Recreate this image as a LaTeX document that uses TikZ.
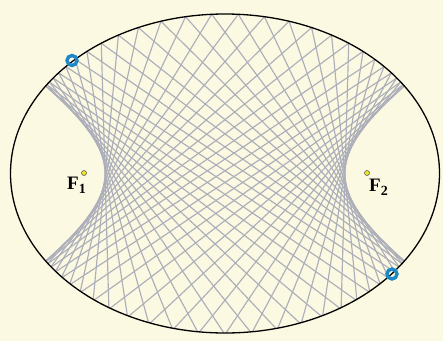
\documentclass[tikz,border=0pt]{standalone}
\usepackage{fontspec}
\setmainfont{Liberation Serif}
\definecolor{cream}{RGB}{252,249,226}
\definecolor{chordgray}{RGB}{172,174,186}
\definecolor{ringblue}{RGB}{28,136,200}
\definecolor{dotyellow}{RGB}{236,230,40}
\tikzset{
  chord/.style={draw=chordgray, line width=1.15pt},
  rim/.style={draw=black, line width=1.3pt},
  focus/.style={circle, draw=black!70, fill=dotyellow, line width=0.5pt, minimum size=5pt, inner sep=0pt},
  endpt/.style={circle, draw=ringblue, line width=3.4pt, minimum size=10pt, inner sep=0pt},
  lbl/.style={font=\fontsize{19}{19}\selectfont\bfseries, inner sep=0pt, anchor=base west}
}
% ellipse a,b and hyperbolic caustic semi-axis A (units of 100pt)
\def\ea{2.145}\def\eb{1.595}\def\hA{1.20}
\def\Nsamp{28}
\edef\hBB{\fpeval{(\ea)^2-(\eb)^2-(\hA)^2}}
\edef\kk{\fpeval{(\hA)/sqrt((\ea)^2-(\eb)^2)}}
\edef\agA{1}\edef\agG{\fpeval{sqrt(1-(\kk)^2)}}
\foreach \j in {1,...,6}{%
  \xdef\agT{\fpeval{((\agA)+(\agG))/2}}%
  \xdef\agG{\fpeval{sqrt((\agA)*(\agG))}}%
  \xdef\agA{\agT}}
\edef\KK{\fpeval{pi/(2*(\agA))}}
\edef\hh{\fpeval{2*(\KK)/(\Nsamp)}}
\def\fk#1{sqrt(1-(\kk)^2*(sin(#1))^2)}
\newcommand\rkstep[1]{%
  \xdef\rA{\fpeval{\fk{\th}}}%
  \xdef\rB{\fpeval{\fk{(\th)+(#1)/2*(\rA)}}}%
  \xdef\rC{\fpeval{\fk{(\th)+(#1)/2*(\rB)}}}%
  \xdef\rD{\fpeval{\fk{(\th)+(#1)*(\rC)}}}%
  \xdef\th{\fpeval{(\th)+(#1)/6*((\rA)+2*(\rB)+2*(\rC)+(\rD))}}}
\xdef\th{\fpeval{-pi/2}}
\begin{document}
\begin{tikzpicture}[x=1pt,y=1pt]
\fill[cream] (0,0) rectangle (443,341);
\useasboundingbox (0,0) rectangle (443,341);
\foreach \i in {1,...,\Nsamp}{
  \ifnum\i=1
    \rkstep{(\hh)/4}\rkstep{(\hh)/4}
  \else
    \rkstep{(\hh)/4}\rkstep{(\hh)/4}\rkstep{(\hh)/4}\rkstep{(\hh)/4}
  \fi
  \xdef\uu{\fpeval{(\kk)*sin(\th)}}
  \xdef\px{\fpeval{(\ea)*(\uu)}}
  \xdef\py{\fpeval{(\eb)*sqrt(1-(\uu)^2)}}
  \xdef\disc{\fpeval{max(0,(\hA)^2*(\py)^2-(\hBB)*(\px)^2+(\hA)^2*(\hBB))}}
  \xdef\rden{\fpeval{(\py)^2+(\hBB)}}
  \foreach \s in {-1,1}{
    \xdef\rr{\fpeval{((\px)*(\py)+(\s)*sqrt(\disc))/(\rden)}}
    \xdef\dx{\fpeval{(\rr)/sqrt((\rr)^2+1)}}
    \xdef\dy{\fpeval{1/sqrt((\rr)^2+1)}}
    \xdef\btime{\fpeval{-2*((\px)*(\dx)/(\ea)^2+(\py)*(\dy)/(\eb)^2)/((\dx)^2/(\ea)^2+(\dy)^2/(\eb)^2)}}
    \xdef\ax{\fpeval{round(225+100*(\px),3)}}
    \xdef\ay{\fpeval{round(167.5+100*(\py),3)}}
    \xdef\bx{\fpeval{round(225+100*((\px)+(\btime)*(\dx)),3)}}
    \xdef\by{\fpeval{round(167.5+100*((\py)+(\btime)*(\dy)),3)}}
    \draw[chord] (\ax,\ay) -- (\bx,\by);
  }
}
\draw[rim] (225,167.5) ellipse [x radius=214.5, y radius=159.5];
\node[focus] (F1) at (84,168) {};
\node[focus] (F2) at (367,168) {};
\node[lbl] (L1) at (67,152) {F\raisebox{-4pt}{\fontsize{14}{14}\selectfont 1}};
\node[lbl] (L2) at (369,150) {F\raisebox{-4pt}{\fontsize{14}{14}\selectfont 2}};
\node[endpt] (P1) at (72,280.5) {};
\node[endpt] (P2) at (392,67) {};
\end{tikzpicture}
\end{document}
